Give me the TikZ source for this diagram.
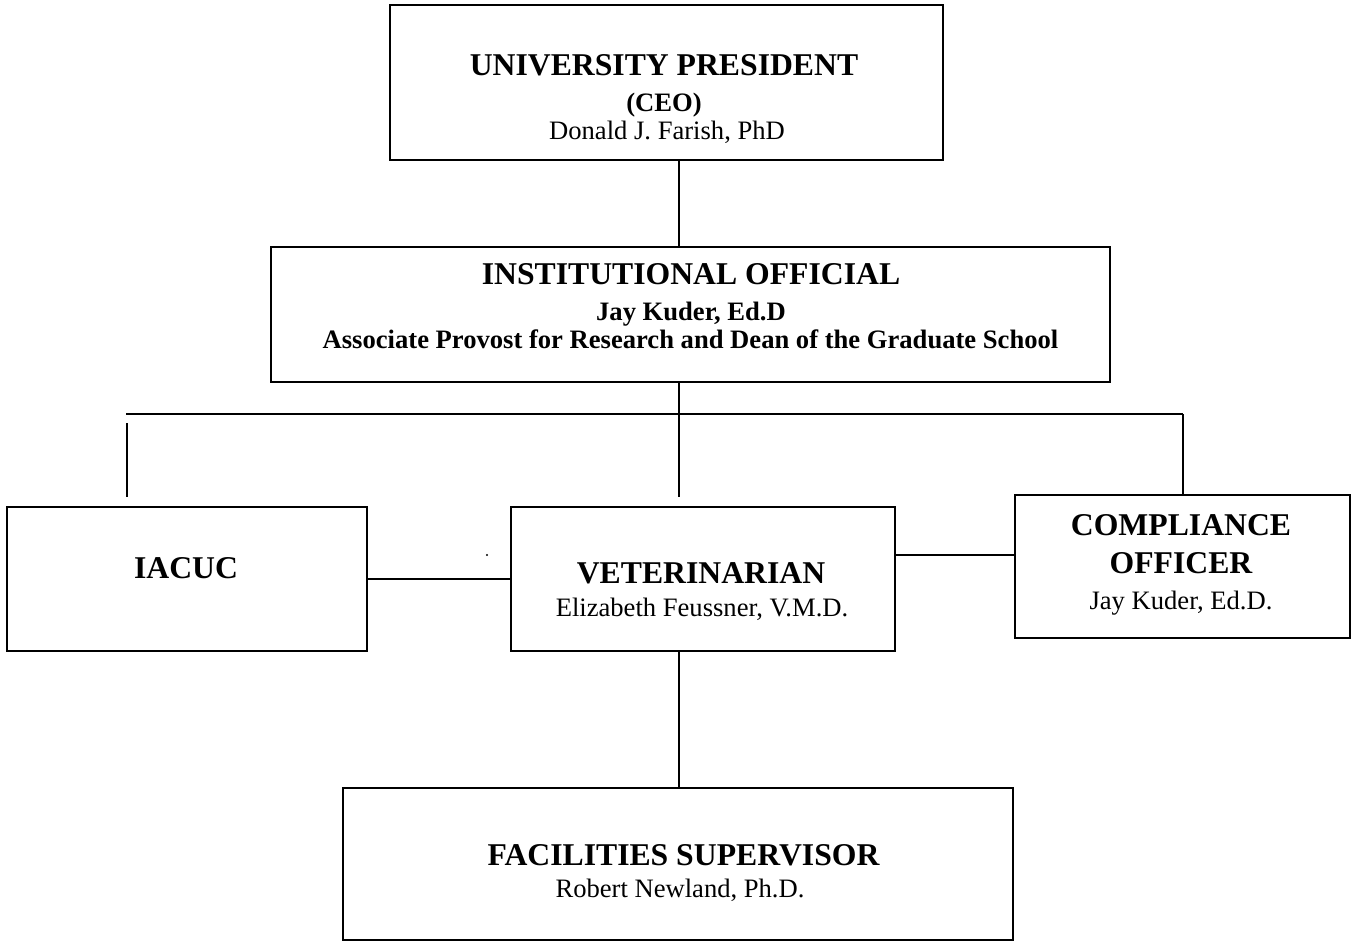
\documentclass[tikz,border=0pt]{standalone}
\usepackage{fontspec}
\setmainfont{Liberation Serif}

\begin{document}
\begin{tikzpicture}[x=1pt,y=1pt]
    \tikzstyle{unit}=[draw, line width=2.4pt, inner sep=0pt]
    \tikzstyle{link}=[line width=1.8pt]
    \tikzstyle{heading}=[anchor=base, inner sep=0pt, font=\bfseries\fontsize{31.7}{36}\selectfont]
    \tikzstyle{subhead}=[anchor=base, inner sep=0pt, font=\bfseries\fontsize{26.6}{30}\selectfont]
    \tikzstyle{person}=[anchor=base, inner sep=0pt, font=\fontsize{26.6}{30}\selectfont]

    \useasboundingbox (0,0) rectangle (1351,-941);

    % boxes
    \node[unit, minimum width=553pt, minimum height=155pt] (pres) at (666.5,-82.5) {};
    \node[unit, minimum width=839pt, minimum height=135pt] (io) at (690.5,-314.5) {};
    \node[unit, minimum width=360pt, minimum height=144pt] (iacuc) at (187,-579) {};
    \node[unit, minimum width=384pt, minimum height=144pt] (vet) at (703,-579) {};
    \node[unit, minimum width=335pt, minimum height=143pt] (comp) at (1182.5,-566.5) {};
    \node[unit, minimum width=670pt, minimum height=152pt] (fac) at (678,-864) {};

    % texts
    \node[heading] (presA) at (664,-76) {UNIVERSITY PRESIDENT};
    \node[subhead] (presB) at (664,-112) {(CEO)};
    \node[person] (presC) at (667,-140) {Donald J. Farish, PhD};

    \node[heading] (ioA) at (691,-284) {INSTITUTIONAL OFFICIAL};
    \node[subhead] (ioB) at (691,-320) {Jay Kuder, Ed.D};
    \node[subhead] (ioC) at (690.5,-348) {Associate Provost for Research and Dean of the Graduate School};

    \node[heading] (iacucA) at (186,-578) {IACUC};

    \node[heading] (vetA) at (701,-583) {VETERINARIAN};
    \node[person] (vetB) at (702,-616) {Elizabeth Feussner, V.M.D.};

    \node[heading] (compA) at (1181,-535) {COMPLIANCE};
    \node[heading] (compB) at (1181,-573) {OFFICER};
    \node[person] (compC) at (1181,-609) {Jay Kuder, Ed.D.};

    \node[heading] (facA) at (683.5,-865) {FACILITIES SUPERVISOR};
    \node[person] (facB) at (680,-897) {Robert Newland, Ph.D.};

    % connectors
    \coordinate (spine) at (679,0);
    \coordinate (drop) at (0,-497);
    \coordinate (branchL) at (126,-414);
    \coordinate (branchR) at (1183,-414);
    \coordinate (stubL) at (127,-423);
    \coordinate (vcLevel) at (0,-555);
    \coordinate (speck) at (487,-555);

    \draw[link] (pres.south -| spine) -- (io.north -| spine);
    \draw[link] (io.south -| spine) -- (drop -| spine);
    \draw[link] (branchL) -- (branchR);
    \draw[link] (branchR) -- (comp.north -| branchR);
    \draw[link] (stubL) -- (stubL |- drop);
    \draw[link] (iacuc.east) -- (vet.west);
    \draw[link] (vet.east |- vcLevel) -- (comp.west |- vcLevel);
    \draw[link] (vet.south -| spine) -- (fac.north -| spine);
    \fill (speck) circle (1.2pt);
\end{tikzpicture}
\end{document}
